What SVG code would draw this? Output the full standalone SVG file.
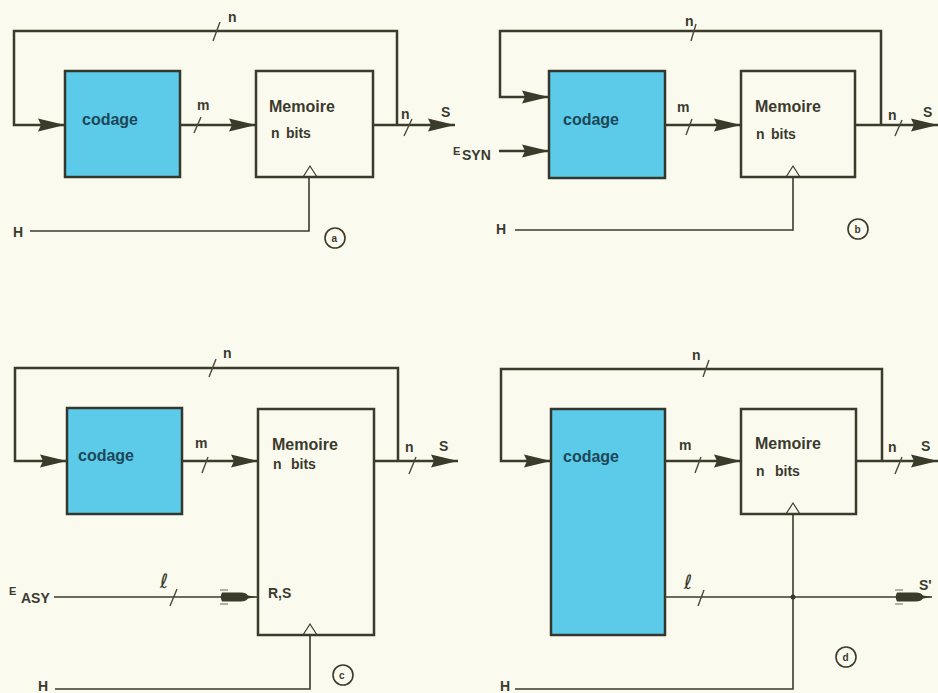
<svg xmlns="http://www.w3.org/2000/svg" width="938" height="693" viewBox="0 0 938 693">
<defs>
<marker id="arr" markerUnits="userSpaceOnUse" markerWidth="30" markerHeight="16" viewBox="0 -8 30 16" refX="27" refY="0" orient="auto">
<path d="M0,-6.5 L27,0 L0,6.5 L3,0 z" fill="#3b3b2b"/>
</marker>
<marker id="bul" markerUnits="userSpaceOnUse" markerWidth="40" markerHeight="18" viewBox="-3 -9 40 18" refX="35" refY="0" orient="auto">
<path d="M0,-4.5 L19,-4.5 Q24,-4.5 26,-1.5 L35,0 L26,1.5 Q24,4.5 19,4.5 L0,4.5 Q-2.5,0 0,-4.5 z" fill="#3b3b2b"/>
<path d="M-2,-7 L6,-7 M-2,7 L6,7" stroke="#6a6a58" stroke-width="1.2"/>
</marker>
</defs>
<style>
.bg{fill:#fbfaee}
.cod{fill:#5ccbe9;stroke:#34382c;stroke-width:2.5}
.mem{fill:#fbfaee;stroke:#3b3b2b;stroke-width:2.5}
.w{fill:none;stroke:#3b3b2b;stroke-width:2.5}
.t{fill:none;stroke:#3b3b2b;stroke-width:1.6}
.s{fill:none;stroke:#4a4a3a;stroke-width:1.4}
.clk{fill:none;stroke:#3b3b2b;stroke-width:1.2}
.tx{font-family:"Liberation Sans",Arial,sans-serif;font-weight:bold;fill:#3a3a2e}
.ct{font-family:"Liberation Sans",Arial,sans-serif;font-weight:bold;fill:#1c4757;font-size:16px}
.lb{font-size:16px}
.sm{font-size:14px}
.el{font-family:"DejaVu Sans",sans-serif;font-style:italic;font-size:20px;fill:#3a3a2e}
.cir{fill:none;stroke:#3b3b2b;stroke-width:1.6}
</style>
<rect class="bg" x="0" y="0" width="938" height="693"/>

<!-- Panel a -->
<g id="a-codage"><rect class="cod" x="65" y="71" width="115" height="106"/><text class="ct" x="82" y="125">codage</text></g>
<g id="a-memoire"><rect class="mem" x="256" y="71" width="117" height="106"/><text class="tx lb" x="269" y="112">Memoire</text><text class="tx sm" x="271" y="138">n</text><text class="tx sm" x="286" y="138">bits</text><path class="clk" d="M303,177 L310,166 L317,177"/></g>
<g id="a-labels">
<text class="tx sm" x="228" y="22">n</text>
<text class="tx sm" x="197" y="110">m</text>
<text class="tx sm" x="401" y="119">n</text>
<text class="tx sm" x="441" y="117">S</text>
<text class="tx sm" x="13" y="237">H</text>
<circle class="cir" cx="335" cy="238" r="10"/><text class="tx" font-size="10" x="331.5" y="242">a</text>
</g>
<g id="a-connectors">
<path class="w" d="M397,125 V31 H14 V125 H65" marker-end="url(#arr)"/>
<path class="w" d="M180,125 H256" marker-end="url(#arr)"/>
<path class="w" d="M373,125 H455" marker-end="url(#arr)"/>
<path class="t" d="M30,231 H309 V177"/>
<path class="s" d="M213,41 L220,22 M194,133 L201,117 M404,136 L412,119"/>
</g>

<!-- Panel b -->
<g id="b-codage"><rect class="cod" x="549" y="71" width="116" height="107"/><text class="ct" x="563" y="125">codage</text></g>
<g id="b-memoire"><rect class="mem" x="741" y="71" width="114" height="106"/><text class="tx lb" x="755" y="112">Memoire</text><text class="tx sm" x="756" y="139">n</text><text class="tx sm" x="771" y="139">bits</text><path class="clk" d="M786,177 L793,166 L800,177"/></g>
<g id="b-labels">
<text class="tx sm" x="685" y="26">n</text>
<text class="tx sm" x="677" y="112">m</text>
<text class="tx sm" x="888" y="120">n</text>
<text class="tx sm" x="923" y="117">S</text>
<text class="tx" font-size="11" x="453" y="155">E</text><text class="tx sm" x="462" y="160">SYN</text>
<text class="tx sm" x="496" y="234">H</text>
<circle class="cir" cx="858" cy="229" r="10"/><text class="tx" font-size="10" x="854.5" y="233">b</text>
</g>
<g id="b-connectors">
<path class="w" d="M881,125 V31 H500 V97 H549" marker-end="url(#arr)"/>
<path class="w" d="M499,151 H549" marker-end="url(#arr)"/>
<path class="w" d="M665,125 H741" marker-end="url(#arr)"/>
<path class="w" d="M855,125 H938" marker-end="url(#arr)"/>
<path class="t" d="M515,230 H793 V177"/>
<path class="s" d="M691,41 L696,24 M686,135 L692,119 M895,136 L902,120"/>
</g>

<!-- Panel c -->
<g id="c-codage"><rect class="cod" x="67" y="408" width="115" height="106"/><text class="ct" x="78" y="461">codage</text></g>
<g id="c-memoire"><rect class="mem" x="258" y="409" width="116" height="226"/><text class="tx lb" x="272" y="450">Memoire</text><text class="tx sm" x="273" y="469">n</text><text class="tx sm" x="291" y="469">bits</text><text class="tx sm" x="268" y="598">R,S</text><path class="clk" d="M303,635 L310,624 L317,635"/></g>
<g id="c-labels">
<text class="tx sm" x="223" y="358">n</text>
<text class="tx sm" x="195" y="448">m</text>
<text class="tx sm" x="405" y="452">n</text>
<text class="tx sm" x="439" y="451">S</text>
<text class="tx" font-size="11" x="9" y="595">E</text><text class="tx sm" x="21" y="603">ASY</text>
<text class="el" x="160" y="588">ℓ</text>
<text class="tx sm" x="38" y="691">H</text>
<circle class="cir" cx="343" cy="675" r="10"/><text class="tx" font-size="10" x="339" y="679">c</text>
</g>
<g id="c-connectors">
<path class="w" d="M398,461 V368 H15 V461 H67" marker-end="url(#arr)"/>
<path class="w" d="M182,461 H258" marker-end="url(#arr)"/>
<path class="w" d="M374,461 H458" marker-end="url(#arr)"/>
<path class="t" d="M54,597 H257" stroke-width="2" marker-end="url(#bul)"/>
<path class="t" d="M55,689 H310 V635"/>
<path class="s" d="M209,377 L216,359 M202,473 L208,457 M409,474 L416,457 M170,606 L177,589"/>
</g>

<!-- Panel d -->
<g id="d-codage"><rect class="cod" x="551" y="409" width="114" height="226"/><text class="ct" x="563" y="462">codage</text></g>
<g id="d-memoire"><rect class="mem" x="741" y="409" width="115" height="105"/><text class="tx lb" x="755" y="449">Memoire</text><text class="tx sm" x="756" y="476">n</text><text class="tx sm" x="775" y="476">bits</text><path class="clk" d="M786,514 L793,503 L800,514"/></g>
<g id="d-labels">
<text class="tx sm" x="692" y="360">n</text>
<text class="tx sm" x="679" y="450">m</text>
<text class="tx sm" x="888" y="452">n</text>
<text class="tx sm" x="921" y="451">S</text>
<text class="tx sm" x="919" y="590">S'</text>
<text class="el" x="684" y="589">ℓ</text>
<text class="tx sm" x="500" y="691">H</text>
<circle class="cir" cx="846" cy="657" r="10"/><text class="tx" font-size="10" x="842.5" y="661">d</text>
</g>
<g id="d-connectors">
<path class="w" d="M882,461 V369 H501 V461 H551" marker-end="url(#arr)"/>
<path class="w" d="M665,461 H741" marker-end="url(#arr)"/>
<path class="w" d="M856,461 H938" marker-end="url(#arr)"/>
<path class="t" d="M665,597 H932" stroke-width="2" marker-end="url(#bul)"/>
<path class="t" d="M515,689 H793 V514"/>
<circle cx="793" cy="597" r="2.5" fill="#3b3b2b"/>
<path class="s" d="M703,377 L709,360 M695,473 L701,457 M895,474 L902,457 M698,606 L704,590"/>
</g>
</svg>
